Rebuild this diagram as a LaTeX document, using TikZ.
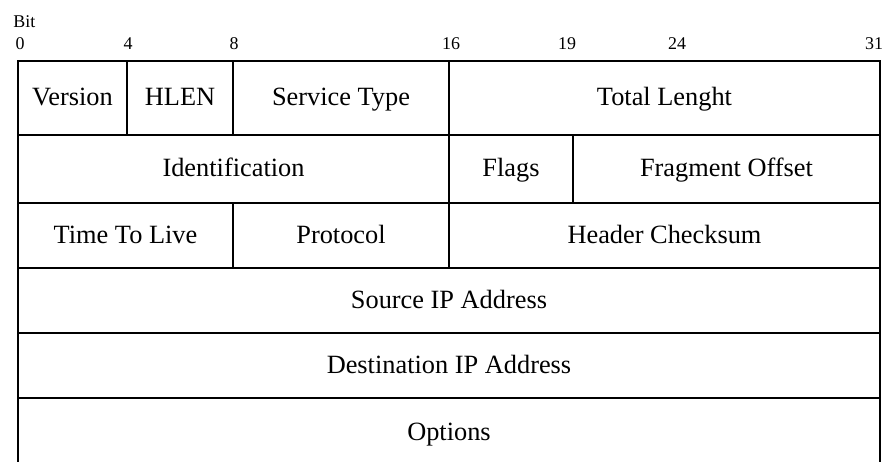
\documentclass[tikz,border=0pt]{standalone}
\usepackage{fontspec}
\setmainfont{Liberation Serif}
\begin{document}
\begin{tikzpicture}[x=0.02cm, y=-0.02cm,
        cell/.style={draw, rectangle, line width=1.5pt, inner sep=0pt,
            text height=1.08em, text depth=0.2em,
            font=\fontsize{15}{17}\selectfont},
        bitno/.style={anchor=base, inner sep=0pt, font=\fontsize{10.2}{12}\selectfont}]
        \useasboundingbox (0,0) rectangle (887,462);

        % Bit scale
        % Define the nodes
        \node[bitno, anchor=base west] (bit) at (13,28) {Bit};
        \node[bitno] (b0) at (20,50) {0};
        \node[bitno] (b4) at (128,50) {4};
        \node[bitno] (b8) at (234,50) {8};
        \node[bitno] (b16) at (451,50) {16};
        \node[bitno] (b19) at (567,50) {19};
        \node[bitno] (b24) at (677,50) {24};
        \node[bitno] (b31) at (874,50) {31};

        % First word
        % Define the nodes
        \node[cell, minimum width=2.18cm, minimum height=1.48cm] (version) at (72.5,98) {Version};
        \node[cell, minimum width=2.12cm, minimum height=1.48cm] (hlen) at (180,98) {HLEN};
        \node[cell, minimum width=4.32cm, minimum height=1.48cm] (service) at (341,98) {Service Type};
        \node[cell, minimum width=8.62cm, minimum height=1.48cm] (total) at (664.5,98) {Total Lenght};

        % Second word
        \node[cell, minimum width=8.62cm, minimum height=1.36cm] (ident) at (233.5,169) {Identification};
        \node[cell, minimum width=2.48cm, minimum height=1.36cm] (flags) at (511,169) {Flags};
        \node[cell, minimum width=6.14cm, minimum height=1.36cm] (offset) at (726.5,169) {Fragment Offset};

        % Third word
        \node[cell, minimum width=4.30cm, minimum height=1.30cm] (ttl) at (125.5,235.5) {Time To Live};
        \node[cell, minimum width=4.32cm, minimum height=1.30cm] (proto) at (341,235.5) {Protocol};
        \node[cell, minimum width=8.62cm, minimum height=1.30cm] (checksum) at (664.5,235.5) {Header Checksum};

        % Addresses and options
        \node[cell, minimum width=17.24cm, minimum height=1.30cm] (src) at (449,300.5) {Source IP Address};
        \node[cell, minimum width=17.24cm, minimum height=1.30cm] (dst) at (449,365.5) {Destination IP Address};
        \node[cell, minimum width=17.24cm, minimum height=1.40cm] (options) at (449,433) {Options};
    \end{tikzpicture}
\end{document}
